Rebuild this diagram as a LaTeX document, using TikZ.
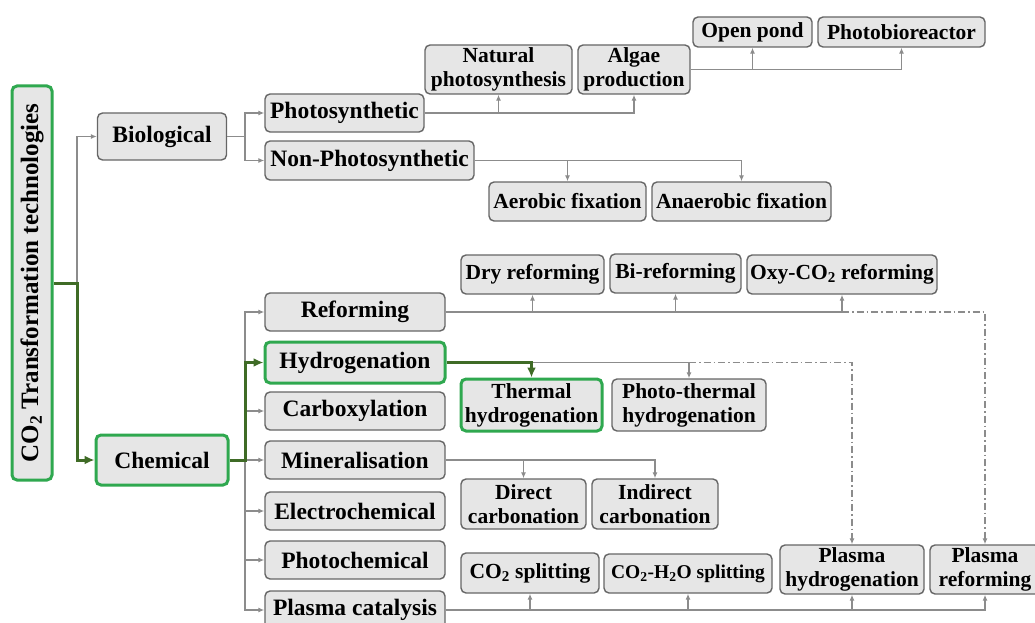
\documentclass[tikz,border=0pt]{standalone}
\usepackage{fontspec}
\setmainfont{Liberation Serif}
\usetikzlibrary{arrows.meta,positioning}
\definecolor{boxfill}{HTML}{E6E6E6}
\definecolor{boxline}{HTML}{666666}
\definecolor{linkgray}{HTML}{8C8C8C}
\definecolor{pickgreen}{HTML}{2FA84F}
\definecolor{pathgreen}{HTML}{3F6B26}
\tikzset {
	box/.style={rectangle, draw=boxline, fill=boxfill, line width=1.4pt, rounded corners=5pt, inner sep=0pt, align=center, font=\bfseries\fontsize{21.5}{24}\selectfont},
	group/.style={box, font=\bfseries\fontsize{23.5}{26}\selectfont},
	chosen/.style={draw=pickgreen, line width=3pt},
	dims/.style 2 args={minimum width=#1, minimum height=#2},
	link/.style={draw=linkgray, line width=1.5pt},
	onward/.style={-{Latex[length=6pt,width=5pt]}},
	mainlink/.style={draw=pathgreen, line width=3pt, -{Latex[length=10pt,width=9pt]}},
	future/.style={link, dash pattern=on 7pt off 3pt on 1.5pt off 3pt}
}
\begin{document}
\begin{tikzpicture}[x=1pt, y=-1pt]
	\useasboundingbox (0,0) rectangle (1035,623);
	% root and first level
	\node [group, chosen, dims={394}{40}, rotate=90, font=\bfseries\fontsize{25}{27}\selectfont] (root) at (32,283) {CO\textsubscript{2} Transformation technologies};
	\node [group, dims={129}{47}] (bio) at (162,136.5) {Biological};
	\node [group, chosen, dims={132}{50}] (chem) at (162,460) {Chemical};
	\coordinate (rootFork) at (77,283);
	\coordinate (bioFork) at (245,136.5);
	\coordinate (chemFork) at (245,460);
	% biological branch
	\node [group, dims={159}{38}] (photo) at (344.5,113) {Photosynthetic};
	\node [group, dims={209}{39}] (nonphoto) at (369.5,160.5) {Non-Photosynthetic};
	\node [box, dims={147}{49}] (natural) at (498.5,69.5) {Natural\\photosynthesis};
	\node [box, dims={112}{49}] (algae) at (634,69.5) {Algae\\production};
	\node [box, dims={119}{30}] (pond) at (752.5,32) {Open pond};
	\node [box, dims={167}{30}] (reactor) at (901.5,32) {Photobioreactor};
	\node [box, dims={157}{39}] (aerobic) at (567.5,201.5) {Aerobic fixation};
	\node [box, dims={179}{39}] (anaerobic) at (741.5,201.5) {Anaerobic fixation};
	% chemical branch
	\node [group, dims={180}{38}] (reform) at (355,312) {Reforming};
	\node [group, chosen, dims={180}{41}] (hydro) at (355,362.5) {Hydrogenation};
	\node [group, dims={180}{38}] (carbox) at (355,411) {Carboxylation};
	\node [group, dims={180}{38}] (mineral) at (355,460) {Mineralisation};
	\node [group, dims={180}{38}] (electro) at (355,511) {Electrochemical};
	\node [group, dims={180}{38}] (photochem) at (355,560) {Photochemical};
	\node [group, dims={180}{38}] (plasmaCat) at (355,610) {Plasma catalysis};
	\node [box, dims={143}{39}] (dry) at (532.5,274.5) {Dry reforming};
	\node [box, dims={131}{39}] (bireform) at (675.5,273.5) {Bi-reforming};
	\node [box, dims={190}{39}] (oxy) at (842,274.5) {Oxy-CO\textsubscript{2} reforming};
	\node [box, chosen, dims={141}{52}] (thermal) at (531.5,405) {Thermal\\hydrogenation};
	\node [box, dims={154}{52}] (photoTh) at (689,405) {Photo-thermal\\hydrogenation};
	\node [box, dims={125}{50}] (direct) at (523.5,504) {Direct\\carbonation};
	\node [box, dims={126}{50}] (indirect) at (655,504) {Indirect\\carbonation};
	\node [box, dims={138}{40}] (split) at (530,573) {CO\textsubscript{2} splitting};
	\node [box, dims={168}{39}, font=\bfseries\fontsize{19.5}{21}\selectfont] (splitH2O) at (688,573.5) {CO\textsubscript{2}-H\textsubscript{2}O splitting};
	\node [box, dims={144}{49}] (plasmaHyd) at (852,569.5) {Plasma\\hydrogenation};
	\node [box, dims={110}{49}] (plasmaRef) at (985,569.5) {Plasma\\reforming};
	% connectors
	\draw [link, onward] (rootFork) |- (bio.west);
	\draw [link] (bio.east) -- (bioFork);
	\foreach \n in {photo, nonphoto}
		\draw [link, onward] (bioFork) |- (\n.west);
	\foreach \n in {natural, algae}
		\draw [link, onward] (photo.east) -| (\n.south);
	\foreach \n in {pond, reactor}
		\draw [link, onward] (algae.east) -| (\n.south);
	\foreach \n in {aerobic, anaerobic}
		\draw [link, onward] (nonphoto.east) -| (\n.north);
	\draw [link] (chem.east) -- (chemFork);
	\foreach \n in {reform, carbox, mineral, electro, photochem, plasmaCat}
		\draw [link, onward] (chemFork) |- (\n.west);
	\foreach \n in {dry, bireform, oxy}
		\draw [link, onward] (reform.east) -| (\n.south);
	\draw [link, onward] (hydro.east) -| (photoTh.north);
	\foreach \n in {direct, indirect}
		\draw [link, onward] (mineral.east) -| (\n.north);
	\foreach \n in {split, splitH2O, plasmaHyd, plasmaRef}
		\draw [link, onward] (plasmaCat.east) -| (\n.south);
	\draw [future, onward] (oxy.south |- reform.east) -| (plasmaRef.north);
	\draw [future, onward] (photoTh.north |- hydro.east) -| (plasmaHyd.north);
	% selected route
	\draw [mainlink] (root.south) -- (rootFork) |- (chem.west);
	\draw [mainlink] (chem.east) -- (chemFork) |- (hydro.west);
	\draw [mainlink] (hydro.east) -| (thermal.north);
\end{tikzpicture}
\end{document}
